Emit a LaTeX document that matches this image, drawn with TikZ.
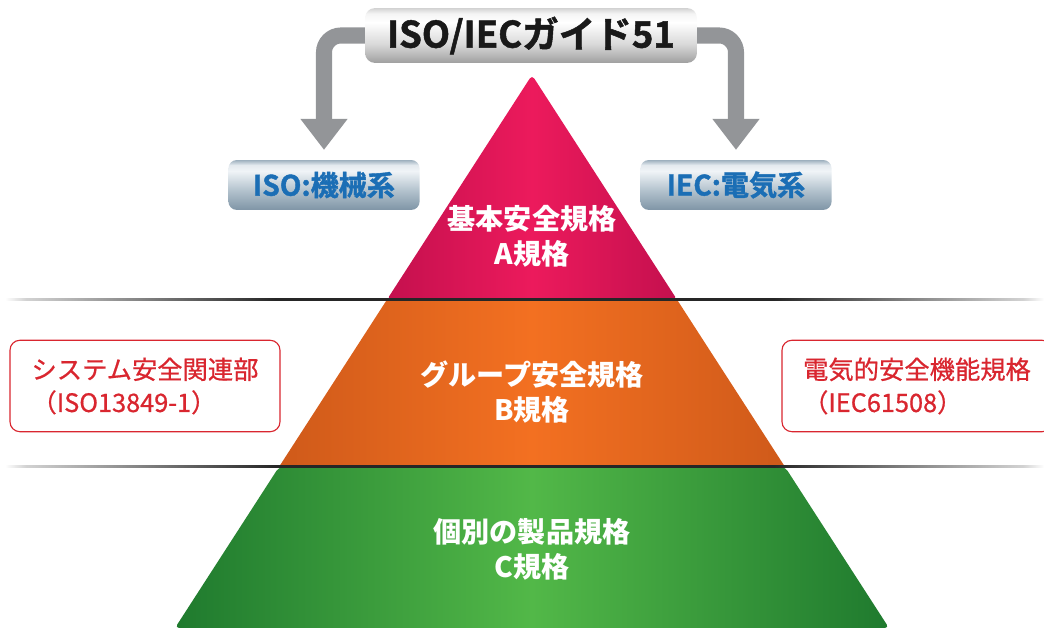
\documentclass[tikz,border=0pt]{standalone}
\usepackage{fontspec}
\setmainfont{Noto Sans CJK JP}
\newfontfamily\heavyfont{Noto Sans CJK JP Bold}[FakeBold=1.4]
\newfontfamily\mediumfont{Noto Sans CJK JP}[FakeBold=0.7]
\usetikzlibrary{arrows.meta,calc}
\definecolor{arrowgray}{HTML}{939598}
\definecolor{fieldblue}{HTML}{1B6EB5}
\definecolor{partred}{HTML}{D9262F}
\definecolor{pinkmid}{HTML}{EC1A5C}
\definecolor{pinkside}{HTML}{C4104E}
\definecolor{orangemid}{HTML}{F37021}
\definecolor{orangeside}{HTML}{CF5A1A}
\definecolor{greenmid}{HTML}{52B848}
\definecolor{greenside}{HTML}{1F7A2E}
\definecolor{fieldlow}{HTML}{7F95A6}
\definecolor{fieldmid}{HTML}{B4C3CE}
\definecolor{fieldhigh}{HTML}{F0F4F7}
\definecolor{fieldtop}{HTML}{9DB0BE}
\pgfdeclarehorizontalshading{dividershade}{100bp}{color(0bp)=(white); color(25bp)=(white); color(26bp)=(gray!35);
  color(38bp)=(black!85); color(62bp)=(black!85); color(74bp)=(gray!35); color(75bp)=(white); color(100bp)=(white)}
\pgfdeclareverticalshading{fieldshade}{100bp}{color(0bp)=(fieldlow); color(25bp)=(fieldlow); color(45bp)=(fieldmid);
  color(64bp)=(fieldhigh); color(70bp)=(fieldhigh!85!fieldtop); color(75bp)=(fieldtop); color(100bp)=(fieldtop)}
\pgfdeclareverticalshading{guideshade}{100bp}{color(0bp)=(gray!75); color(25bp)=(gray!75); color(42bp)=(gray!30);
  color(62bp)=(white); color(70bp)=(gray!8); color(75bp)=(gray!35); color(100bp)=(gray!35)}
\tikzset{
  >={Triangle[width=32pt,length=22pt]},
}
\tikzstyle{guidebox}=[rounded corners=7pt,minimum width=236pt,minimum height=39pt,
  shading=guideshade,font=\fontsize{26}{30}\heavyfont,text=black!90]
\tikzstyle{fieldbox}=[rounded corners=6pt,minimum width=136pt,minimum height=35.5pt,
  shading=fieldshade,font=\fontsize{20}{24}\heavyfont,text=fieldblue]
\tikzstyle{partbox}=[draw=partred,line width=0.8pt,rounded corners=7pt,fill=white,
  minimum width=192pt,minimum height=65pt,align=left,
  font=\fontsize{18}{23.5}\mediumfont,text=partred]
\tikzstyle{tierlabel}=[align=center,text=white,font=\fontsize{20}{25}\selectfont\bfseries]
\tikzstyle{flow}=[line width=11.4pt,arrowgray,rounded corners=12pt,->,shorten >=7pt]
\tikzstyle{divider}=[shading=dividershade]

\begin{document}
\begin{tikzpicture}[x=0.025cm,y=0.025cm]
  \clip (0,0) rectangle (1044,630);
  \coordinate (apex) at (532,555);
  \coordinate (bl) at (175,2);
  \coordinate (br) at (889,2);
  \shade[left color=pinkside,right color=pinkside,middle color=pinkmid,rounded corners=3pt]
    (apex) -- ($(apex)!0.407!(br)$) -- ($(apex)!0.407!(bl)$) -- cycle;
  \shade[left color=orangeside,right color=orangeside,middle color=orangemid]
    ($(apex)!0.407!(bl)$) -- ($(apex)!0.407!(br)$) -- ($(apex)!0.709!(br)$) -- ($(apex)!0.709!(bl)$) -- cycle;
  \shade[left color=greenside,right color=greenside,middle color=greenmid,rounded corners=3pt]
    ($(apex)!0.709!(bl)$) -- ($(apex)!0.709!(br)$) -- (br) -- (bl) -- cycle;
  \shade[divider] (5,329) rectangle (1044,331);
  \shade[divider] (5,162) rectangle (1044,164);

  \node[tierlabel] (tierA) at (532,394) {基本安全規格\\A規格};
  \node[tierlabel] (tierB) at (532,238) {グループ安全規格\\B規格};
  \node[tierlabel] (tierC) at (532,81) {個別の製品規格\\C規格};

  \node[guidebox] (guide) at (531,594.5) {ISO/IECガイド51};
  \node[fieldbox] (iso) at (324,445) {ISO:機械系};
  \node[fieldbox] (iec) at (736,445) {IEC:電気系};
  \draw[flow] (guide.west) -| (iso);
  \draw[flow] (guide.east) -| (iec);

  \node[partbox] (syspart) at (145,244) {システム安全関連部\\（ISO13849-1）};
  \node[partbox] (elecfunc) at (917,244) {電気的安全機能規格\\（IEC61508）};
\end{tikzpicture}
\end{document}
